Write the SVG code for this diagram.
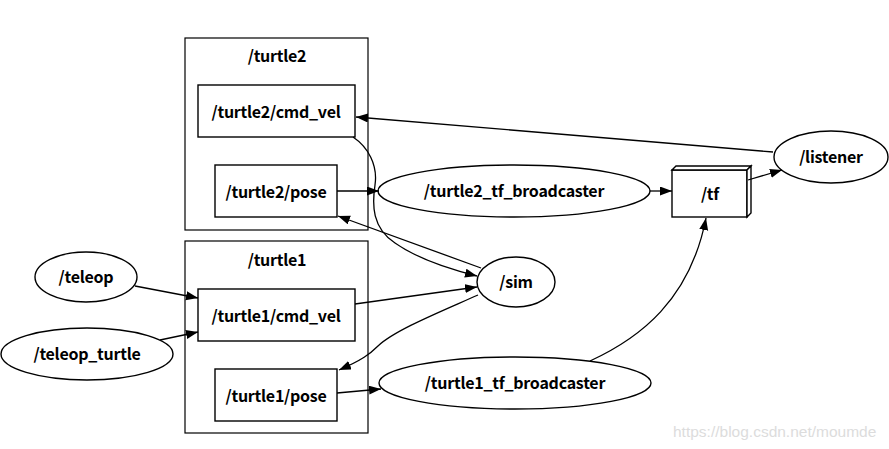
<svg xmlns="http://www.w3.org/2000/svg" width="889" height="449" viewBox="0 0 889 449">
<style>
.n{fill:#fff;stroke:#000;stroke-width:1.4}
.c{fill:none;stroke:#000;stroke-width:1.2}
.t{font-family:"Noto Sans CJK SC","Noto Sans",sans-serif;font-weight:bold;font-size:16px;letter-spacing:-0.25px;text-anchor:middle;fill:#000}
.e{fill:none;stroke:#000;stroke-width:1.3}
</style>
<defs>
<marker id="a" markerUnits="userSpaceOnUse" markerWidth="14" markerHeight="10" refX="12" refY="4.5" orient="auto">
<path d="M0,0 L12,4.5 L0,9 z" fill="#000"/>
</marker>
</defs>
<rect width="889" height="449" fill="#fff"/>
<g id="cluster_turtle2">
<rect class="c" x="185" y="38" width="183" height="192"/>
<text class="t" x="277" y="62">/turtle2</text>
</g>
<g id="cluster_turtle1">
<rect class="c" x="185" y="241" width="183" height="192"/>
<text class="t" x="277" y="266">/turtle1</text>
</g>
<g id="turtle2_cmd_vel">
<rect class="n" x="198" y="85" width="157" height="52"/>
<text class="t" x="276" y="118">/turtle2/cmd_vel</text>
</g>
<g id="turtle2_pose">
<rect class="n" x="215" y="165" width="122" height="52"/>
<text class="t" x="276" y="198">/turtle2/pose</text>
</g>
<g id="turtle1_cmd_vel">
<rect class="n" x="198" y="289" width="157" height="52"/>
<text class="t" x="276" y="322">/turtle1/cmd_vel</text>
</g>
<g id="turtle1_pose">
<rect class="n" x="215" y="369" width="122" height="52"/>
<text class="t" x="276" y="402">/turtle1/pose</text>
</g>
<g id="teleop">
<ellipse class="n" cx="86" cy="277" rx="51" ry="25"/>
<text class="t" x="86" y="283">/teleop</text>
</g>
<g id="teleop_turtle">
<ellipse class="n" cx="87" cy="354" rx="86" ry="26"/>
<text class="t" x="87" y="360">/teleop_turtle</text>
</g>
<g id="sim">
<ellipse class="n" cx="516" cy="282" rx="39" ry="25"/>
<text class="t" x="516" y="288">/sim</text>
</g>
<g id="turtle2_tf_broadcaster">
<ellipse class="n" cx="514" cy="191" rx="136" ry="26"/>
<text class="t" x="514" y="197">/turtle2_tf_broadcaster</text>
</g>
<g id="turtle1_tf_broadcaster">
<ellipse class="n" cx="515" cy="383" rx="136" ry="26"/>
<text class="t" x="515" y="389">/turtle1_tf_broadcaster</text>
</g>
<g id="tf">
<rect class="n" x="672" y="170" width="75" height="47"/>
<polygon class="n" points="672,170 676,166 751,166 747,170"/>
<polygon class="n" points="747,170 751,166 751,213 747,217"/>
<text class="t" x="710" y="200">/tf</text>
</g>
<g id="listener">
<ellipse class="n" cx="831" cy="157" rx="57" ry="26"/>
<text class="t" x="831" y="163">/listener</text>
</g>
<g id="edges">
<path class="e" d="M773,152 L356,117" marker-end="url(#a)"/>
<path class="e" d="M353,137 C368,147 378,165 375,185 C372,205 372,228 395,243 C415,257 445,268 477,276" marker-end="url(#a)"/>
<path class="e" d="M481,268 L338,216" marker-end="url(#a)"/>
<path class="e" d="M337,191 L379,191" marker-end="url(#a)"/>
<path class="e" d="M650,191 L672,191" marker-end="url(#a)"/>
<path class="e" d="M748,180 L782,170" marker-end="url(#a)"/>
<path class="e" d="M135,286 L198,298" marker-end="url(#a)"/>
<path class="e" d="M160,340 L198,332" marker-end="url(#a)"/>
<path class="e" d="M355,304 L477,287" marker-end="url(#a)"/>
<path class="e" d="M478,295 C440,312 395,330 378,346 C370,354 362,360 339,370" marker-end="url(#a)"/>
<path class="e" d="M337,393 L381,389" marker-end="url(#a)"/>
<path class="e" d="M590,361 C640,338 690,300 706,218" marker-end="url(#a)"/>
</g>
<text x="673" y="437" font-family="Liberation Sans, Arial, sans-serif" font-size="15.5" fill="#dcdcdc">https://blog.csdn.net/moumde</text>
</svg>
